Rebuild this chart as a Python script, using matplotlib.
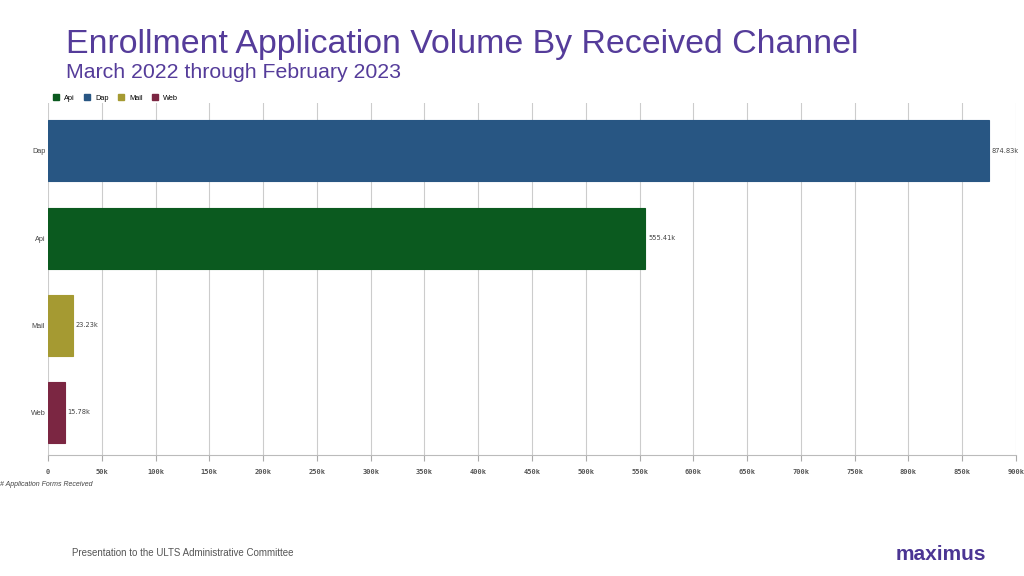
import matplotlib
matplotlib.use("Agg")
import matplotlib.pyplot as plt
from matplotlib.patches import Patch
from matplotlib.ticker import FuncFormatter

categories = ["Dap", "Api", "Mail", "Web"]
values = [874830, 555410, 23230, 15780]
value_labels = ["874.83k", "555.41k", "23.23k", "15.78k"]
colors = {"Api": "#0b5a1f", "Dap": "#285683", "Mail": "#a59a32", "Web": "#7b2642"}
legend_order = ["Api", "Dap", "Mail", "Web"]
xticks = list(range(0, 900001, 50000))

plt.rcParams['font.family'] = ['Liberation Sans', 'DejaVu Sans']

fig = plt.figure(figsize=(10.24, 5.76), dpi=100)
ax = fig.add_axes([48/1024, 1-455/576, (1016-48)/1024, (455-103)/576])

ypos = list(range(len(categories)))
ax.barh(ypos, values, height=0.7, color=[colors[c] for c in categories],
        edgecolor=[colors[c] for c in categories], linewidth=0.8, zorder=3)
for y, v, lab in zip(ypos, values, value_labels):
    ax.text(v + 2500, y, lab, va='center', ha='left', fontsize=4.8, color='#444444',
            family='DejaVu Sans')

ax.set_ylim(3.49, -0.55)
ax.set_xlim(0, 900000)
ax.set_yticks(ypos)
ax.set_yticklabels(categories, fontsize=5.2, color='#444444')
ax.set_xticks(xticks)
ax.xaxis.set_major_formatter(FuncFormatter(lambda x, p: "0" if x == 0 else f"{int(x/1000)}k"))
for lab in ax.get_xticklabels():
    lab.set_fontsize(5)
    lab.set_family('DejaVu Sans Mono')
    lab.set_fontweight('bold')
    lab.set_color('#555555')
ax.tick_params(axis='y', length=0, pad=2)
ax.tick_params(axis='x', length=4, color='#aaaaaa', pad=6)
ax.grid(axis='x', color='#cccccc', linewidth=0.8, zorder=0)
for s in ['top', 'right', 'left']:
    ax.spines[s].set_visible(False)
ax.spines['bottom'].set_color('#bbbbbb')

handles = [Patch(facecolor=colors[c], edgecolor=colors[c], label=c) for c in legend_order]
fig.legend(handles=handles, loc='center left', bbox_to_anchor=(46/1024, 1-98/576), ncol=4,
           frameon=False, fontsize=5.3, handlelength=0.8, handleheight=0.8,
           columnspacing=1.3, handletextpad=0.7)

fig.text(0, 1-485/576, "# Application Forms Received", fontsize=5, style='italic',
         color='#444444', va='center', ha='left')

fig.text(66/1024, 1-44/576, "Enrollment Application Volume By Received Channel",
         fontsize=24.4, color='#553c9a', va='center', ha='left')
fig.text(66/1024, 1-73/576, "March 2022 through February 2023",
         fontsize=15.3, color='#553c9a', va='center', ha='left')
fig.text(72/1024, 1-553/576, "Presentation to the ULTS Administrative Committee",
         fontsize=7, color='#555555', va='center', ha='left')
fig.text(986/1024, 1-554/576, "maximus", fontsize=15, fontweight='bold',
         color='#4b3593', va='center', ha='right')

fig.savefig("out.png", dpi=100)
